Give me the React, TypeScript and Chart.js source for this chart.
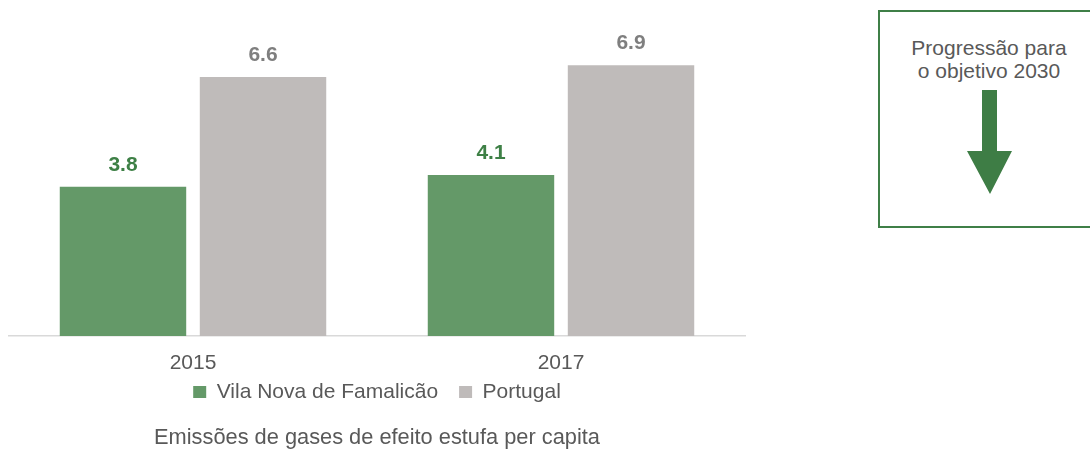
import React, { useEffect, useRef } from "react";
import { Chart, registerables } from "chart.js";

Chart.register(...registerables);

const categories = ["2015", "2017"];
const famalicaoValues = [3.8, 4.1];
const portugalValues = [6.6, 6.9];
const seriesNames = ["Vila Nova de Famalicão", "Portugal"];
const chartTitle = "Emissões de gases de efeito estufa per capita";
const boxText = ["Progressão para", "o objetivo 2030"];

const GREEN_BAR = "#649968";
const GREY_BAR = "#bfbbba";
const GREEN_TEXT = "#3e8046";
const GREY_TEXT = "#7f7f7f";
const AXIS_TEXT = "#595959";
const FONT = "'Liberation Sans', Arial, sans-serif";

const valueLabels = {
  id: "valueLabels",
  afterDatasetsDraw(chart: any) {
    const ctx = chart.ctx;
    ctx.save();
    ctx.font = `bold 21px ${FONT}`;
    ctx.textAlign = "center";
    ctx.textBaseline = "alphabetic";
    chart.data.datasets.forEach((ds: any, di: number) => {
      const meta = chart.getDatasetMeta(di);
      meta.data.forEach((bar: any, i: number) => {
        ctx.fillStyle = di === 0 ? GREEN_TEXT : GREY_TEXT;
        ctx.fillText(Number(ds.data[i]).toFixed(1), bar.x, bar.y - 16);
      });
    });
    ctx.restore();
  },
};

// let the x tick labels draw outside the (deliberately compact) axis box
const unclipTicks = {
  id: "unclipTicks",
  afterLayout(chart: any) {
    const x = chart.scales.x;
    x.bottom = chart.height;
  },
};

export default function App() {
  const ref = useRef<HTMLCanvasElement>(null);
  useEffect(() => {
    const chart = new Chart(ref.current!, {
      type: "bar",
      data: {
        labels: categories,
        datasets: [
          {
            label: seriesNames[0],
            data: famalicaoValues,
            backgroundColor: GREEN_BAR,
            categoryPercentage: 0.761,
            barPercentage: 0.903,
          },
          {
            label: seriesNames[1],
            data: portugalValues,
            backgroundColor: GREY_BAR,
            categoryPercentage: 0.761,
            barPercentage: 0.903,
          },
        ],
      },
      options: {
        responsive: false,
        animation: false,
        layout: { padding: { left: 9, right: 15, top: 22, bottom: 0 } },
        scales: {
          x: {
            grid: { display: false, drawTicks: false },
            border: { display: true, color: "#d9d9d9", width: 1.5 },
            ticks: { color: AXIS_TEXT, font: { family: FONT, size: 21 }, padding: 15 },
            afterFit: (scale: any) => {
              scale.height = 24.5;
            },
          },
          y: {
            display: false,
            min: 0,
            max: 8,
          },
        },
        plugins: {
          legend: {
            position: "bottom",
            labels: {
              color: AXIS_TEXT,
              font: { family: FONT, size: 21 },
              boxWidth: 13,
              boxHeight: 12,
              padding: 21,
            },
          },
          title: {
            display: true,
            text: chartTitle,
            position: "bottom",
            color: AXIS_TEXT,
            font: { family: FONT, size: 21.8, weight: "normal", lineHeight: 1.1 },
            padding: { top: 13.5, bottom: 0 },
          },
          tooltip: { enabled: false },
        },
      },
      plugins: [valueLabels, unclipTicks],
    });
    return () => chart.destroy();
  }, []);

  return (
    <div style={{ position: "absolute", left: 0, top: 0, width: 1090, height: 450, overflow: "hidden", background: "#fff" }}>
      <canvas ref={ref} width={760} height={450} style={{ position: "absolute", left: 0, top: 0 }} />
      <div
        style={{
          position: "absolute",
          left: 878,
          top: 10,
          width: 222,
          height: 218,
          boxSizing: "border-box",
          border: "2px solid #3f7f47",
        }}
      >
        <div
          style={{
            position: "absolute",
            left: -2,
            top: 24,
            width: 222,
            textAlign: "center",
            fontFamily: FONT,
            fontSize: 21,
            lineHeight: "23px",
            color: AXIS_TEXT,
          }}
        >
          {boxText[0]}
          <br />
          {boxText[1]}
        </div>
        <svg style={{ position: "absolute", left: 0, top: 0 }} width={222} height={218}>
          <polygon points="102,78 117,78 117,139 132,139 110,182 87,139 102,139" fill="#3e7d45" />
        </svg>
      </div>
    </div>
  );
}
